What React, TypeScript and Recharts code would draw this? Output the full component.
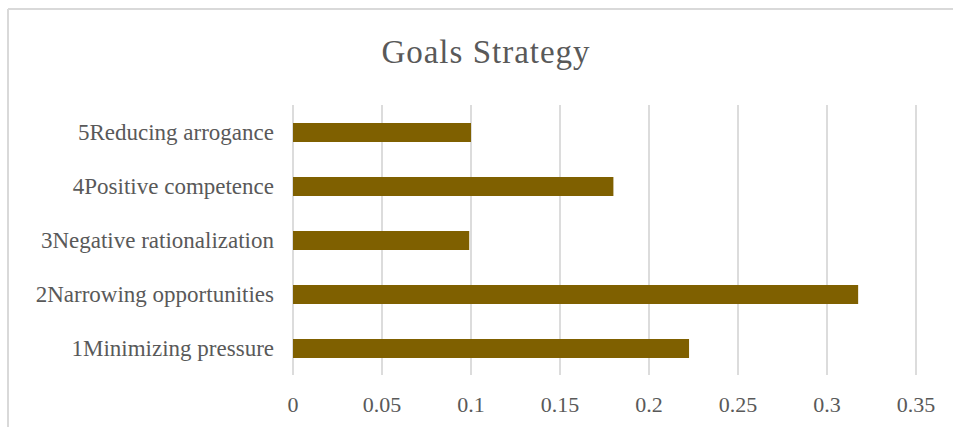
import React from "react";
import { BarChart, Bar, XAxis, YAxis, CartesianGrid } from "recharts";

const categories = [
  "1Minimizing pressure",
  "2Narrowing opportunities",
  "3Negative rationalization",
  "4Positive competence",
  "5Reducing arrogance",
];
const values = [0.2225, 0.3175, 0.099, 0.18, 0.1];
const xTicks = [0, 0.05, 0.1, 0.15, 0.2, 0.25, 0.3, 0.35];
const title = "Goals Strategy";

const data = categories.map((name, i) => ({ name, value: values[i] }));

const FONT = '"Liberation Serif", "Times New Roman", serif';
const TEXT = "#595959";

export default function App() {
  return (
    <div style={{ position: "absolute", left: 0, top: 0, width: 953, height: 427, background: "#fff" }}>
      <svg width={953} height={427} style={{ position: "absolute", left: 0, top: 0 }}>
        <line x1={8} y1={9} x2={953} y2={9} stroke="#d9d9d9" strokeWidth={2} />
        <line x1={8} y1={9} x2={8} y2={427} stroke="#d9d9d9" strokeWidth={2} />
        <text x={486} y={63} textAnchor="middle" fontFamily={FONT} fontSize={33} letterSpacing={1} fill={TEXT}>
          {title}
        </text>
      </svg>
      <div style={{ position: "absolute", left: 0, top: 0 }}>
        <BarChart
          width={953}
          height={427}
          data={data}
          layout="vertical"
          margin={{ top: 105, right: 37, bottom: 12, left: 0 }}
        >
          <CartesianGrid horizontal={false} vertical={true} stroke="#dcdcdc" strokeWidth={2} />
          <XAxis
            type="number"
            domain={[0, 0.35]}
            ticks={xTicks}
            axisLine={false}
            tickLine={false}
            tickSize={0}
            tickMargin={21}
            height={40}
            interval={0}
            tick={{ fontFamily: FONT, fontSize: 22, fill: TEXT }}
          />
          <YAxis
            type="category"
            dataKey="name"
            reversed
            width={293}
            axisLine={false}
            tickLine={false}
            tickSize={0}
            tickMargin={19}
            interval={0}
            tick={{ fontFamily: FONT, fontSize: 23, fill: TEXT }}
          />
          <Bar dataKey="value" fill="#7F6000" barSize={19} isAnimationActive={false} />
        </BarChart>
      </div>
    </div>
  );
}
